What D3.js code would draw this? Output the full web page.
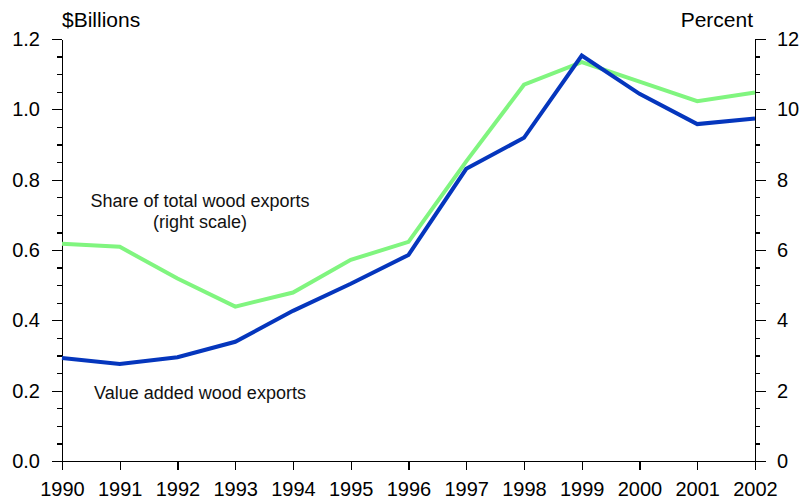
<!DOCTYPE html>
<html>
<head>
<meta charset="utf-8">
<script src="https://cdn.jsdelivr.net/npm/d3@7"></script>
<style>
  html, body { margin: 0; padding: 0; background: #fff; }
  svg { display: block; font-family: "Liberation Sans", Arial, sans-serif; }
  .axis path, .axis line { stroke: #000; stroke-width: 1.2; shape-rendering: crispEdges; }
  .axis text { font-family: "Liberation Sans", Arial, sans-serif; font-size: 20px; fill: #000; }
  .note { font-size: 18px; fill: #111; }
  .title { font-size: 21px; fill: #000; }
</style>
</head>
<body>
<svg id="chart" width="802" height="504"></svg>
<script>
// value added wood exports ($ billions, left) and share of total wood exports (percent, right)
const years = [1990, 1991, 1992, 1993, 1994, 1995, 1996, 1997, 1998, 1999, 2000, 2001, 2002];
const valueAdded = [0.293, 0.276, 0.295, 0.339, 0.427, 0.504, 0.586, 0.831, 0.919, 1.153, 1.044, 0.958, 0.974];
const sharePct = [6.18, 6.09, 5.19, 4.39, 4.79, 5.72, 6.23, 8.52, 10.70, 11.34, 10.79, 10.23, 10.48];
const leftTicks = [0, 0.2, 0.4, 0.6, 0.8, 1.0, 1.2];
const rightTicks = [0, 2, 4, 6, 8, 10, 12];

const svg = d3.select('#chart');
const m = { top: 39, right: 47, bottom: 43, left: 62 };
const W = 802, H = 504;

const x = d3.scaleLinear().domain([1990, 2002]).range([m.left, W - m.right]);
const yL = d3.scaleLinear().domain([0, 1.2]).range([H - m.bottom, m.top]);
const yR = d3.scaleLinear().domain([0, 12]).range([H - m.bottom, m.top]);

// minor ticks first (every 0.05 / 0.5), then the major axes over them
svg.append('g').attr('class', 'axis')
  .attr('transform', `translate(${m.left},0)`)
  .call(d3.axisLeft(yL).tickValues(d3.range(0, 1.2001, 0.05)).tickSize(5).tickFormat(''))
  .call((g) => g.select('.domain').remove());
svg.append('g').attr('class', 'axis')
  .attr('transform', `translate(${W - m.right},0)`)
  .call(d3.axisRight(yR).tickValues(d3.range(0, 12.001, 0.5)).tickSize(5).tickFormat(''))
  .call((g) => g.select('.domain').remove());

svg.append('g').attr('class', 'axis')
  .attr('transform', `translate(${m.left},0)`)
  .call(d3.axisLeft(yL).tickValues(leftTicks).tickSize(10).tickSizeOuter(0).tickPadding(12).tickFormat(d3.format('.1f')));
svg.append('g').attr('class', 'axis')
  .attr('transform', `translate(${W - m.right},0)`)
  .call(d3.axisRight(yR).tickValues(rightTicks).tickSize(11).tickSizeOuter(0).tickPadding(11).tickFormat(d3.format('d')));

svg.append('g').attr('class', 'axis')
  .attr('transform', `translate(0,${H - m.bottom})`)
  .call(d3.axisBottom(x).tickValues(years).tickSize(9).tickSizeOuter(0).tickPadding(12).tickFormat(d3.format('d')))
  .call((g) => g.select('.domain').attr('d', `M${m.left - 10},0.5H${W - m.right + 11}`));

// series
const lineR = d3.line().x((d, i) => x(years[i])).y((d) => yR(d));
const lineL = d3.line().x((d, i) => x(years[i])).y((d) => yL(d));

svg.append('path').datum(sharePct)
  .attr('d', lineR).attr('fill', 'none')
  .attr('stroke', '#80f57f').attr('stroke-width', 4).attr('stroke-linejoin', 'miter');
svg.append('path').datum(valueAdded)
  .attr('d', lineL).attr('fill', 'none')
  .attr('stroke', '#0536bd').attr('stroke-width', 4).attr('stroke-linejoin', 'miter');

// axis titles
svg.append('text').attr('class', 'title').attr('x', m.left).attr('y', 27).text('$Billions');
svg.append('text').attr('class', 'title').attr('x', W - m.right - 2).attr('y', 27)
  .attr('text-anchor', 'end').text('Percent');

// labels
svg.append('text').attr('class', 'note').attr('x', 200).attr('y', 207)
  .attr('text-anchor', 'middle').text('Share of total wood exports');
svg.append('text').attr('class', 'note').attr('x', 200).attr('y', 228)
  .attr('text-anchor', 'middle').text('(right scale)');
svg.append('text').attr('class', 'note').attr('x', 200).attr('y', 399)
  .attr('text-anchor', 'middle').text('Value added wood exports');
</script>
</body>
</html>
